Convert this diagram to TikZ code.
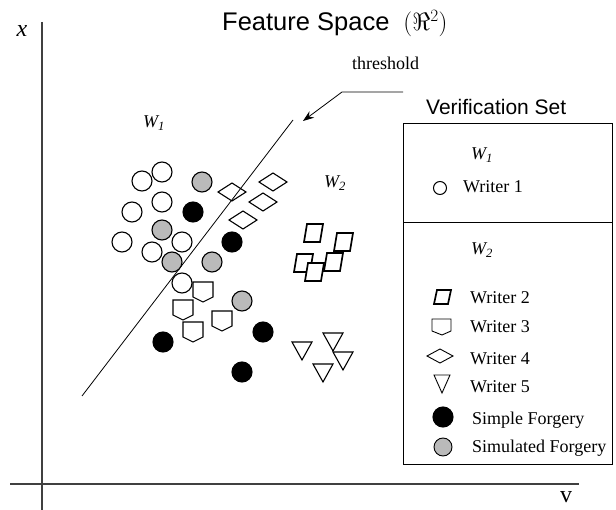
\documentclass[tikz,border=0pt]{standalone}
\usepackage{fontspec}
\usetikzlibrary{arrows.meta}
\setmainfont{Liberation Serif}
\newfontfamily\arialf{Liberation Sans}
\begin{document}
\begin{tikzpicture}[x=1pt,y=-1pt,
  mk/.style={draw=black,line width=1.1pt,fill=white},
  axisline/.style={draw=black!75,line width=1.2pt},
  lbl/.style={inner sep=0pt,font=\fontsize{18}{20}\selectfont},
  wlab/.style={inner sep=0pt,font=\fontsize{18}{20}\selectfont\itshape},
  wc/.pic={\draw[mk] (0,0) circle[radius=10];},
  gc/.pic={\draw[mk,fill=black!27] (0,0) circle[radius=10];},
  bc/.pic={\draw[mk,fill=black] (0,0) circle[radius=10];},
  dm/.pic={\draw[mk,line join=miter] (-14,0) -- (0,-9) -- (14,0) -- (0,9) -- cycle;},
  pt/.pic={\draw[mk] (-10,-10) -- (10,-10) -- (10,5) -- (0,10) -- (-10,5) -- cycle;},
  pg/.pic={\draw[mk,line width=1.7pt] (-6,-9) -- (10,-9) -- (7,9) -- (-9,9) -- cycle;},
  tr/.pic={\draw[mk] (-10,-8) -- (10,-8) -- (0,10) -- cycle;}
]
\useasboundingbox (0,0) rectangle (616,510);

% axes
\coordinate (yaxT) at (42,22);
\coordinate (yaxB) at (42,510);
\coordinate (xaxL) at (10,484);
\coordinate (xaxR) at (579,484);
\draw[axisline] (yaxT) -- (yaxB);
\draw[axisline] (xaxL) -- (xaxR);
\node[inner sep=0pt,font=\fontsize{24}{26}\selectfont\itshape] (xlab) at (22,31) {x};
\node[inner sep=0pt,font=\fontsize{24}{26}\selectfont] (vlab) at (566,497) {v};

% title
\node[inner sep=0pt,anchor=base west,font=\arialf\fontsize{25.5}{28}\selectfont] (title) at (222,31) {Feature Space\hspace{14pt}$(\Re^{2})$};

% W labels in plot
\node[wlab,anchor=base west] (w1) at (143,128) {W\textsubscript{1}};
\node[wlab,anchor=base west] (w2) at (324,188) {W\textsubscript{2}};

% diamonds (Writer 4) under the line
\foreach \p in {(232,192),(273,182),(263,202),(243,220)} \pic at \p {dm};

% threshold line
\coordinate (thB) at (82,396);
\coordinate (thT) at (293,120);
\draw[line width=0.8pt] (thB) -- (thT);

% threshold label and arrow
\node[lbl,anchor=base west] (thr) at (352,70) {threshold};
\coordinate (arA) at (403,92);
\coordinate (arB) at (342,92);
\coordinate (arC) at (303,121);
\draw[line width=0.8pt,-{Stealth[length=11pt,width=8pt]}] (arA) -- (arB) -- (arC);

% writer 1
\foreach \p in {(142,181),(162,172),(162,202),(132,212),(122,242),(152,252),(182,242),(182,283)} \pic at \p {wc};
% simulated forgery
\foreach \p in {(202,182),(162,230),(172,262),(212,262),(242,301)} \pic at \p {gc};
% simple forgery
\foreach \p in {(193,212),(232,242),(263,332),(163,342),(242,372)} \pic at \p {bc};
% writer 3
\foreach \p in {(203,292),(183,310),(222,321),(193,332)} \pic at \p {pt};
% writer 2
\foreach \p in {(313,233),(343,242),(303,263),(333,262),(314,272)} \pic at \p {pg};
% writer 5
\foreach \p in {(302,350),(333,341),(343,360),(323,372)} \pic at \p {tr};

% legend
\node[inner sep=0pt,anchor=base west,font=\arialf\fontsize{21}{23}\selectfont] (vset) at (426,115) {Verification Set};
\coordinate (bxA) at (403,124);
\coordinate (bxB) at (612,465);
\coordinate (dvL) at (403,223);
\coordinate (dvR) at (612,223);
\draw[line width=1pt] (bxA) rectangle (bxB);
\draw[line width=1pt] (dvL) -- (dvR);

\node[wlab,anchor=base west] (lw1) at (471,160) {W\textsubscript{1}};
\node[wlab,anchor=base west] (lw2) at (471,255) {W\textsubscript{2}};

\draw[mk,line width=1pt] (440,188) circle[radius=6.5];
\node[lbl,anchor=base west] (t1) at (463,193) {Writer 1};

\draw[mk,line width=1.7pt] (437,290) -- (451,290) -- (448,304) -- (434,304) -- cycle;
\node[lbl,anchor=base west] (t2) at (470,304) {Writer 2};

\draw[mk,line width=0.9pt] (432,319) -- (451,319) -- (451,331) -- (442,335) -- (432,331) -- cycle;
\node[lbl,anchor=base west] (t3) at (470,333) {Writer 3};

\draw[mk,line width=0.9pt] (427,356) -- (440,349) -- (453,356) -- (440,363) -- cycle;
\node[lbl,anchor=base west] (t4) at (470,365) {Writer 4};

\draw[mk,line width=0.9pt] (434,375) -- (450,375) -- (442,393) -- cycle;
\node[lbl,anchor=base west] (t5) at (470,393) {Writer 5};

\draw[mk,fill=black] (443,417) circle[radius=10];
\node[lbl,anchor=base west] (t6) at (472,425) {Simple Forgery};

\draw[mk,fill=black!27,line width=0.9pt] (443,447) circle[radius=9];
\node[lbl,anchor=base west] (t7) at (472,453) {Simulated Forgery};
\end{tikzpicture}
\end{document}
